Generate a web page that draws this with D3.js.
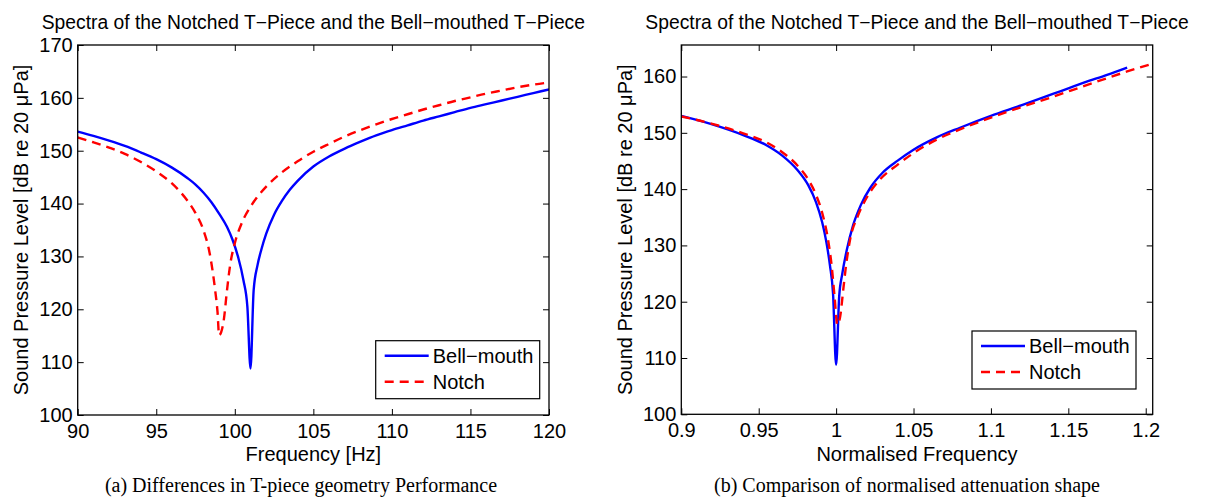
<!DOCTYPE html>
<html>
<head>
<meta charset="utf-8">
<script src="https://cdn.jsdelivr.net/npm/d3@7"></script>
<style>
body { margin: 0; background: #ffffff; }
svg text { font-family: "Liberation Sans", Arial, sans-serif; fill: #000; }
svg text.caption { font-family: "Liberation Serif", "Times New Roman", serif; }
</style>
</head>
<body>
<div id="chart"></div>
<script>
/*
 Two MATLAB style spectra panels.
*/

//---- panel (a): absolute frequency [Hz] ----
var bellFreq = [90, 91, 92, 93, 94, 95, 96, 97, 97.5, 98, 98.5, 99, 99.5, 99.85, 100.2, 100.55, 100.8, 101.0,
	101.2, 101.45, 101.7, 102, 102.5, 103, 103.5, 104, 105, 106, 107, 108, 109, 110, 111, 112, 113,
	114, 115, 116, 117, 118, 119, 120];
var bellLevel = [153.6, 152.8, 151.9, 150.9, 149.7, 148.4, 146.8, 144.8, 143.6, 142.1, 140.3, 138.1, 135.6, 133.2, 130.0, 125.5, 120.5, 108.8,
	123.6, 128.4, 131.4, 134.3, 137.9, 140.5, 142.6, 144.3, 147.0, 148.9, 150.4, 151.7, 152.9, 153.9, 154.8, 155.7, 156.5,
	157.3, 158.1, 158.8, 159.5, 160.2, 160.9, 161.6];

var notchFreq = [90, 91, 92, 93, 94, 95, 96, 96.5, 97, 97.5, 98, 98.4, 98.75, 98.9, 99.0, 99.3, 99.5,
	99.7, 100, 100.4, 101, 101.5, 102, 103, 104, 105, 106, 107, 108, 109, 110, 111, 112,
	113, 114, 115, 116, 117, 118, 119, 120];
var notchLevel = [152.5, 151.6, 150.6, 149.4, 147.9, 146.1, 143.8, 142.3, 140.5, 138.2, 135.0, 130.6, 123.6, 119.5, 115.1, 118.0, 123.5,
	128.3, 132.5, 136.0, 139.4, 141.5, 143.2, 145.9, 148.0, 149.8, 151.3, 152.7, 153.9, 155.0, 156.0, 156.9, 157.8,
	158.6, 159.4, 160.1, 160.8, 161.4, 162.0, 162.5, 162.9];

//---- panel (b): normalised frequency ----
var bellNorm = [0.9, 0.92, 0.94, 0.955, 0.965, 0.975, 0.982, 0.987, 0.991, 0.9935, 0.996, 0.998, 1.0,
	1.002, 1.004, 1.007, 1.011, 1.016, 1.022, 1.03, 1.04, 1.05, 1.065, 1.08, 1.1, 1.12, 1.14,
	1.15, 1.16, 1.175, 1.188];
var bellNormLevel = [153.0, 151.5, 149.6, 147.8, 146.0, 143.4, 140.7, 137.7, 134.1, 130.9, 126.5, 121.5, 108.8,
	121.0, 125.0, 129.3, 133.6, 137.2, 140.2, 142.9, 145.1, 147.0, 149.2, 150.9, 153.0, 154.9, 156.9,
	157.9, 158.9, 160.3, 161.6];

var notchNorm = [0.9, 0.92, 0.94, 0.955, 0.965, 0.975, 0.982, 0.987, 0.991, 0.9948, 0.9972, 0.999, 1.0008,
	1.0026, 1.0046, 1.0063, 1.009, 1.014, 1.02, 1.028, 1.04, 1.05, 1.065, 1.08, 1.1, 1.12, 1.14,
	1.16, 1.188, 1.2045];
var notchNormLevel = [152.9, 151.6, 149.9, 148.3, 146.6, 144.2, 141.7, 139.0, 135.8, 131.0, 126.2, 120.9, 115.9,
	117.3, 122.1, 126.2, 131.0, 135.2, 138.6, 141.6, 144.4, 146.4, 148.8, 150.6, 152.7, 154.6, 156.4,
	158.3, 160.9, 162.3];

// tick values
var hzTicks = [90, 95, 100, 105, 110, 115, 120];
var normTicks = [0.9, 0.95, 1, 1.05, 1.1, 1.15, 1.2];
var splTicksA = [100, 110, 120, 130, 140, 150, 160, 170];
var splTicksB = [100, 110, 120, 130, 140, 150, 160];

var seriesNames = ["Bell\u2212mouth", "Notch"];
var titleText = "Spectra of the Notched T\u2212Piece and the Bell\u2212mouthed T\u2212Piece";
var yLabelText = "Sound Pressure Level [dB re 20 \u03bcPa]";

var svg = d3.select("#chart").append("svg")
	.attr("width", 1212)
	.attr("height", 498);

// zip two arrays into points
function zip(xs, ys) {
	return xs.map(function(x, i) { return [x, ys[i]]; });
}

function drawPanel(p) {
	var x = d3.scaleLinear().domain(p.xDomain).range([p.left, p.right]);
	var y = d3.scaleLinear().domain(p.yDomain).range([p.bottom, p.top]);

	var g = svg.append("g").attr("class", "panel");

	// clip for curves
	g.append("clipPath").attr("id", p.id + "_clip")
		.append("rect")
		.attr("x", p.left).attr("y", p.top)
		.attr("width", p.right - p.left).attr("height", p.bottom - p.top);

	var line = d3.line()
		.x(function(d) { return x(d[0]); })
		.y(function(d) { return y(d[1]); })
		.curve(d3.curveMonotoneX);

	var styles = [
		{ color: "#0000ff", dash: null },
		{ color: "#ff0000", dash: "9,6" }
	];

	p.series.forEach(function(s, i) {
		g.append("path")
			.attr("d", line(s))
			.attr("clip-path", "url(#" + p.id + "_clip)")
			.attr("fill", "none")
			.attr("stroke", styles[i].color)
			.attr("stroke-width", 2.4)
			.attr("stroke-dasharray", styles[i].dash);
	});

	// axes, MATLAB style: ticks inside on all four sides
	var axB = g.append("g").attr("transform", "translate(0," + p.bottom + ")")
		.call(d3.axisBottom(x).tickValues(p.xTicks).tickFormat(p.xFormat).tickSizeInner(-6).tickSizeOuter(0).tickPadding(9));
	var axT = g.append("g").attr("transform", "translate(0," + p.top + ")")
		.call(d3.axisTop(x).tickValues(p.xTicks).tickFormat("").tickSizeInner(-6).tickSizeOuter(0));
	var axL = g.append("g").attr("transform", "translate(" + p.left + ",0)")
		.call(d3.axisLeft(y).tickValues(p.yTicks).tickSizeInner(-6).tickSizeOuter(0).tickPadding(5));
	var axR = g.append("g").attr("transform", "translate(" + p.right + ",0)")
		.call(d3.axisRight(y).tickValues(p.yTicks).tickFormat("").tickSizeInner(-6).tickSizeOuter(0));

	[axB, axT, axL, axR].forEach(function(a) {
		a.selectAll("path.domain").remove();
		a.selectAll("line").attr("stroke", "#000").attr("stroke-width", 1);
		a.selectAll("text").attr("font-size", "20px").attr("font-family", null);
	});

	// box
	g.append("rect")
		.attr("x", p.left).attr("y", p.top)
		.attr("width", p.right - p.left).attr("height", p.bottom - p.top)
		.attr("fill", "none").attr("stroke", "#000").attr("stroke-width", 1.3);

	// title and labels
	var cx = (p.left + p.right) / 2;
	g.append("text").attr("x", cx).attr("y", 29)
		.attr("text-anchor", "middle").attr("font-size", "19.3px").text(titleText);
	g.append("text").attr("x", cx).attr("y", 461)
		.attr("text-anchor", "middle").attr("font-size", "20px").text(p.xLabel);
	g.append("text")
		.attr("transform", "translate(" + p.yLabelX + "," + ((p.top + p.bottom) / 2) + ") rotate(-90)")
		.attr("text-anchor", "middle").attr("font-size", "20px").text(yLabelText);
	g.append("text").attr("class", "caption")
		.attr("x", p.captionX).attr("y", 492)
		.attr("text-anchor", "middle").attr("font-size", "20px").text(p.caption);

	// legend
	var lg = g.append("g").attr("transform", "translate(" + p.legend[0] + "," + p.legend[1] + ")");
	lg.append("rect").attr("width", 164).attr("height", 58)
		.attr("fill", "#fff").attr("stroke", "#000").attr("stroke-width", 1.2);
	seriesNames.forEach(function(name, i) {
		var ly = 15 + i * 26;
		lg.append("line")
			.attr("x1", 9).attr("x2", 53).attr("y1", ly).attr("y2", ly)
			.attr("stroke", styles[i].color).attr("stroke-width", 2.4)
			.attr("stroke-dasharray", styles[i].dash);
		lg.append("text").attr("x", 57).attr("y", ly).attr("dy", "0.36em")
			.attr("font-size", "20px").text(name);
	});
}

drawPanel({
	id: "a",
	left: 77.7, right: 549, top: 45, bottom: 415,
	xDomain: [90, 120], yDomain: [100, 170],
	xTicks: hzTicks, yTicks: splTicksA,
	xFormat: function(d) { return String(d); },
	xLabel: "Frequency [Hz]",
	yLabelX: 28,
	caption: "(a) Differences in T-piece geometry Performance",
	captionX: 301,
	legend: [375.7, 340.7],
	series: [zip(bellFreq, bellLevel), zip(notchFreq, notchLevel)]
});

drawPanel({
	id: "b",
	left: 681.3, right: 1152.7, top: 45, bottom: 414.3,
	xDomain: [0.9, 1.2045], yDomain: [100, 165.6],
	xTicks: normTicks, yTicks: splTicksB,
	xFormat: function(d) { return String(+d.toFixed(2)); },
	xLabel: "Normalised Frequency",
	yLabelX: 631.6,
	caption: "(b) Comparison of normalised attenuation shape",
	captionX: 907,
	legend: [972, 331],
	series: [zip(bellNorm, bellNormLevel), zip(notchNorm, notchNormLevel)]
});
</script>
</body>
</html>
